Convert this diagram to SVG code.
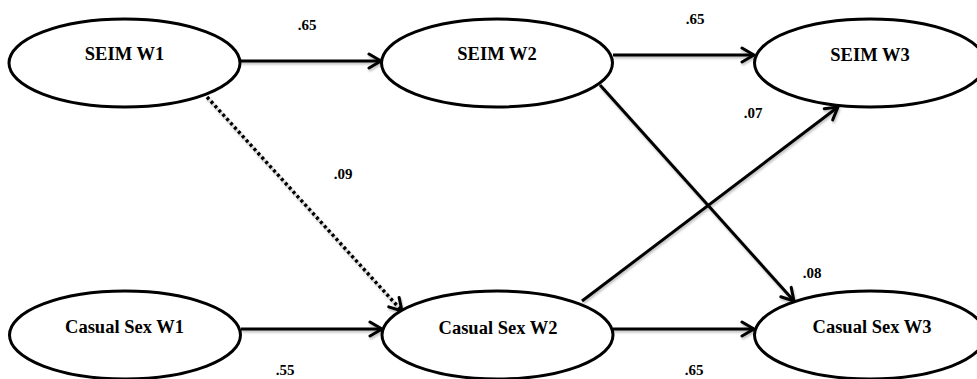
<svg xmlns="http://www.w3.org/2000/svg" width="977" height="379" viewBox="0 0 977 379">
<style>
.node ellipse{fill:#fff;stroke:#000;stroke-width:3}
.node text{font-weight:bold;font-size:18.5px;text-anchor:middle;fill:#000}
.edge{stroke:#000;stroke-width:3;fill:none;marker-end:url(#arr)}
.dot{stroke-width:3.5;stroke-dasharray:3 2.8}
.lbl{font-weight:bold;font-size:15px;text-anchor:middle;fill:#000}
</style>
<defs>
<marker id="arr" viewBox="0 0 16 18" refX="14" refY="9" markerWidth="16" markerHeight="18" markerUnits="userSpaceOnUse" orient="auto">
<path d="M2,2 L14,9 L2,16" fill="none" stroke="#000" stroke-width="3" stroke-linecap="round" stroke-linejoin="round"/>
</marker>
<filter id="sh" x="-10%" y="-10%" width="120%" height="130%">
<feDropShadow dx="1" dy="2" stdDeviation="1.2" flood-color="#000" flood-opacity="0.25"/>
</filter>
</defs>
<rect width="977" height="379" fill="#fff"/>
<g id="connectors" filter="url(#sh)">
<line class="edge" x1="240" y1="61" x2="381" y2="61"/>
<line class="edge" x1="613" y1="55" x2="754" y2="55"/>
<line class="edge" x1="241" y1="329" x2="382" y2="329"/>
<line class="edge" x1="613" y1="329" x2="754" y2="329"/>
<line class="edge dot" x1="207" y1="97" x2="402" y2="311"/>
<line class="edge" x1="600" y1="85" x2="794" y2="301"/>
<line class="edge" x1="582" y1="301" x2="838" y2="107"/>
</g>
<g font-family="'Liberation Serif', 'Times New Roman', Times, serif">
<g id="seim-w1" class="node"><ellipse cx="124.5" cy="63" rx="115.5" ry="44"/><text x="124.5" y="60">SEIM W1</text></g>
<g id="seim-w2" class="node"><ellipse cx="497" cy="63" rx="115.5" ry="44"/><text x="497" y="60">SEIM W2</text></g>
<g id="seim-w3" class="node"><ellipse cx="870" cy="63" rx="115.5" ry="44"/><text x="870" y="61">SEIM W3</text></g>
<g id="cs-w1" class="node"><ellipse cx="125" cy="335" rx="115.5" ry="44"/><text x="124.5" y="333">Casual Sex W1</text></g>
<g id="cs-w2" class="node"><ellipse cx="497.5" cy="335" rx="115.5" ry="44"/><text x="498" y="334">Casual Sex W2</text></g>
<g id="cs-w3" class="node"><ellipse cx="870" cy="335" rx="115.5" ry="44"/><text x="872" y="333">Casual Sex W3</text></g>
<g id="labels">
<text class="lbl" x="307" y="30">.65</text>
<text class="lbl" x="695" y="24">.65</text>
<text class="lbl" x="343" y="179">.09</text>
<text class="lbl" x="753" y="118">.07</text>
<text class="lbl" x="812" y="278">.08</text>
<text class="lbl" x="285" y="375">.55</text>
<text class="lbl" x="694" y="375">.65</text>
</g>
</g>
</svg>
